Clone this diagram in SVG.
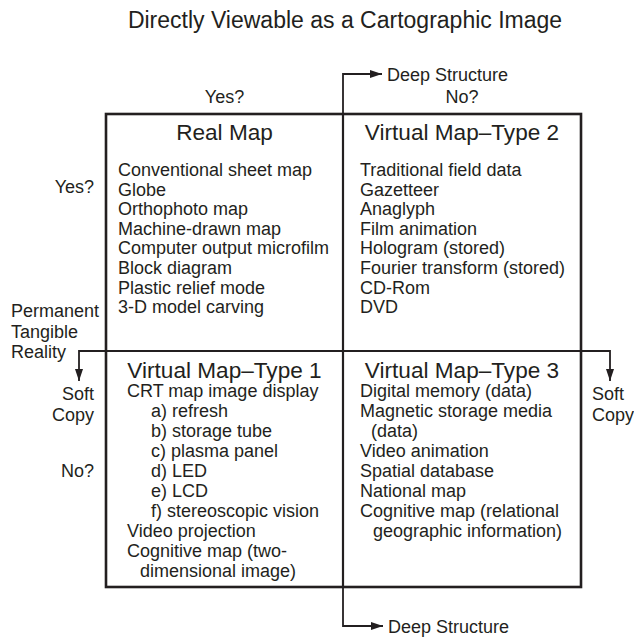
<svg xmlns="http://www.w3.org/2000/svg" width="634" height="637" viewBox="0 0 634 637">
<style>
text{font-family:"Liberation Sans",Arial,sans-serif;fill:#231f20;}
.t{font-size:23px;}
.h{font-size:22.6px;text-anchor:middle;}
.b{font-size:18px;}
.r{text-anchor:end;}
.c{text-anchor:middle;}
.box{fill:none;stroke:#231f20;stroke-width:2.6;}
.div{fill:none;stroke:#231f20;stroke-width:2.2;}
.con{fill:none;stroke:#231f20;stroke-width:1.8;}
</style>
<defs>
<marker id="ah" markerUnits="userSpaceOnUse" markerWidth="12" markerHeight="8" refX="12" refY="4" orient="auto">
<path d="M0,0 L12,4 L0,8 z" fill="#231f20"/>
</marker>
</defs>
<rect width="634" height="637" fill="#ffffff"/>
<text class="t c" x="345" y="28">Directly Viewable as a Cartographic Image</text>
<g id="labels">
<text class="b c" x="224.5" y="103">Yes?</text>
<text class="b c" x="462" y="103">No?</text>
<text class="b r" x="94" y="193">Yes?</text>
<text class="b r" x="94" y="477">No?</text>
<text class="b" x="11" y="317">Permanent</text>
<text class="b" x="11" y="337.5">Tangible</text>
<text class="b" x="11" y="358">Reality</text>
<text class="b r" x="94" y="400">Soft</text>
<text class="b r" x="94" y="421">Copy</text>
<text class="b" x="592" y="400">Soft</text>
<text class="b" x="592" y="421">Copy</text>
<text class="b" x="387" y="81">Deep Structure</text>
<text class="b" x="388" y="633">Deep Structure</text>
</g>
<g id="frame">
<rect class="box" x="106" y="114" width="475" height="473"/>
<line class="div" x1="106" y1="351" x2="581" y2="351"/>
<line class="div" x1="343" y1="114" x2="343" y2="587"/>
</g>
<g id="real-map">
<text class="h" x="224.5" y="140">Real Map</text>
<text class="b" x="118" y="176">Conventional sheet map</text>
<text class="b" x="118" y="195.6">Globe</text>
<text class="b" x="118" y="215.2">Orthophoto map</text>
<text class="b" x="118" y="234.8">Machine-drawn map</text>
<text class="b" x="118" y="254.4">Computer output microfilm</text>
<text class="b" x="118" y="274">Block diagram</text>
<text class="b" x="118" y="293.6">Plastic relief mode</text>
<text class="b" x="118" y="313.2">3-D model carving</text>
</g>
<g id="virtual-map-type-2">
<text class="h" x="462" y="140">Virtual Map–Type 2</text>
<text class="b" x="360" y="176">Traditional field data</text>
<text class="b" x="360" y="195.6">Gazetteer</text>
<text class="b" x="360" y="215.2">Anaglyph</text>
<text class="b" x="360" y="234.8">Film animation</text>
<text class="b" x="360" y="254.4">Hologram (stored)</text>
<text class="b" x="360" y="274">Fourier transform (stored)</text>
<text class="b" x="360" y="293.6">CD-Rom</text>
<text class="b" x="360" y="313.2">DVD</text>
</g>
<g id="virtual-map-type-1">
<text class="h" x="224.5" y="378">Virtual Map–Type 1</text>
<text class="b" x="127" y="397">CRT map image display</text>
<text class="b" x="151" y="417">a) refresh</text>
<text class="b" x="151" y="437">b) storage tube</text>
<text class="b" x="151" y="457">c) plasma panel</text>
<text class="b" x="151" y="477">d) LED</text>
<text class="b" x="151" y="497">e) LCD</text>
<text class="b" x="151" y="517">f) stereoscopic vision</text>
<text class="b" x="127" y="537">Video projection</text>
<text class="b" x="127" y="557">Cognitive map (two-</text>
<text class="b" x="140" y="577">dimensional image)</text>
</g>
<g id="virtual-map-type-3">
<text class="h" x="462" y="378">Virtual Map–Type 3</text>
<text class="b" x="360" y="397">Digital memory (data)</text>
<text class="b" x="360" y="417">Magnetic storage media</text>
<text class="b" x="371" y="437">(data)</text>
<text class="b" x="360" y="457">Video animation</text>
<text class="b" x="360" y="477">Spatial database</text>
<text class="b" x="360" y="497">National map</text>
<text class="b" x="360" y="517">Cognitive map (relational</text>
<text class="b" x="373" y="537">geographic information)</text>
</g>
<g id="connectors">
<path class="con" d="M343,114 V74 H382" marker-end="url(#ah)"/>
<path class="con" d="M343,587 V626 H383" marker-end="url(#ah)"/>
<path class="con" d="M106,351 H79 V381" marker-end="url(#ah)"/>
<path class="con" d="M581,351 H610 V381" marker-end="url(#ah)"/>
</g>
</svg>
